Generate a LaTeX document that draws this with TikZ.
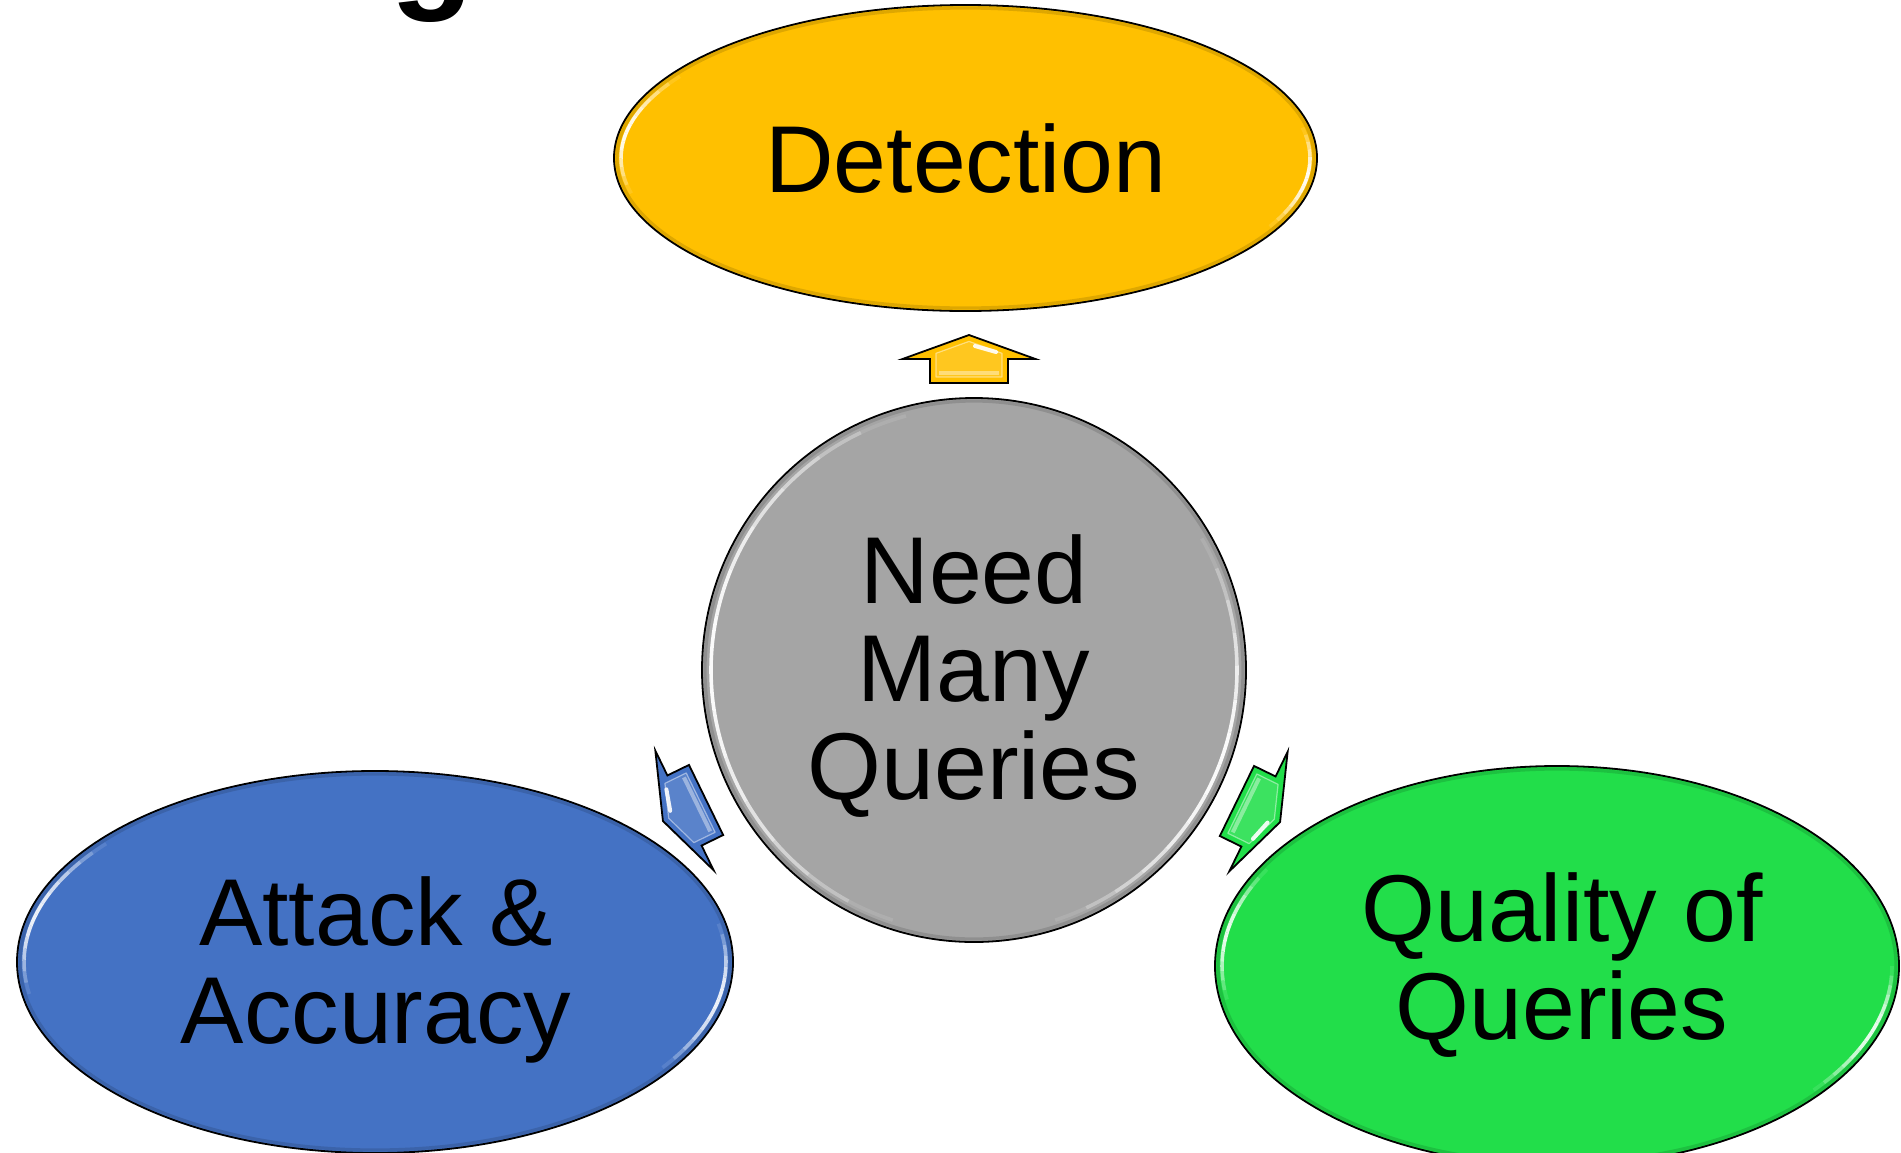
\documentclass[tikz,border=0pt]{standalone}
\usepackage{fontspec}
\setmainfont{Liberation Sans}
\usetikzlibrary{shapes.geometric}

\definecolor{detfill}{HTML}{FFC000}
\definecolor{hubfill}{HTML}{A5A5A5}
\definecolor{attfill}{HTML}{4472C4}
\definecolor{qualfill}{RGB}{34,222,74}

\tikzset{
  bubble/.style={ellipse, draw=black, line width=0.9pt, inner sep=0pt},
  hubdisc/.style={circle, draw=black, line width=0.9pt, inner sep=0pt,
    fill=hubfill, minimum size=272pt},
  bubbletext/.style={font=\fontsize{47.5}{49}\selectfont, align=center,
    anchor=base, inner sep=0pt, text=black},
  rimshade/.style={black, opacity=0.13, line width=1.6pt},
  % bevelled block arrow, tip pointing "up" in its own frame
  pics/spoke/.style={code={
    \fill[#1] (0,-24) -- (66.5,0) -- (39,0) -- (39,24) -- (-39,24)
      -- (-39,0) -- (-66.5,0) -- cycle;
    \fill[white, opacity=0.12] (0,-17.6) -- (33,-5.7) -- (33,18)
      -- (-33,18) -- (-33,-5.7) -- cycle;
    \draw[white, opacity=0.45, line width=0.6pt, line join=round]
      (0,-17.6) -- (33,-5.7) -- (33,18) -- (-33,18) -- (-33,-5.7) -- cycle;
    \draw[white, opacity=0.9, line width=2pt, line cap=round] (6,-13) -- (27,-7);
    \draw[white, opacity=0.4, line width=2pt] (-30,14) -- (30,14);
    \draw[black, line width=0.9pt, line join=miter]
      (0,-24) -- (66.5,0) -- (39,0) -- (39,24) -- (-39,24)
      -- (-39,0) -- (-66.5,0) -- cycle;
  }}
}

% soft white glint along an inner elliptic rim:
% #1,#2 centre, #3,#4 radii, #5,#6 parameter angles, #7 peak opacity
\newcommand\rimglint[7]{%
  \foreach \k in {0,...,13}{%
    \pgfmathsetmacro\aa{#5+(#6-#5)*\k/14}%
    \pgfmathsetmacro\ab{#5+(#6-#5)*(\k+1)/14}%
    \pgfmathsetmacro\op{#7*sin(180*(\k+0.5)/14)}%
    \draw[white, line width=1.8pt, opacity=\op]
      ({#1+#3*cos(\aa)},{#2+#4*sin(\aa)})
      arc[start angle=\aa, end angle=\ab, x radius=#3, y radius=#4];
  }%
}

\begin{document}
\begin{tikzpicture}[x=0.5pt, y=-0.5pt]
\useasboundingbox (0,0) rectangle (1901,1152);
\clip (0,0) rectangle (1901,1152);

% tail of the heading above the diagram
\node[font=\bfseries\fontsize{68.5}{70}\selectfont, anchor=base, inner sep=0pt]
  (headg) at (432,-7) {g};

% top bubble
\node[bubble, fill=detfill, minimum width=351.5pt, minimum height=153pt]
  (det) at (965.5,158) {};
\draw[rimshade] (965.5,158) ellipse [x radius=348.5, y radius=150];
\rimglint{965.5}{158}{344.5}{146}{-146}{-194}{0.95}
\rimglint{965.5}{158}{344.5}{146}{28}{-12}{0.95}
\node[bubbletext] (detlbl) at (966,192) {Detection};

% central disc
\node[hubdisc] (hub) at (974,670) {};
\draw[rimshade] (974,670) circle [radius=269];
\rimglint{974}{670}{263}{263}{-105}{-252}{0.95}
\rimglint{974}{670}{263}{263}{72}{-30}{0.95}
\node[bubbletext] (hublbl) at (974,799) {Need\\Many\\Queries};

% lower left bubble
\node[bubble, fill=attfill, minimum width=358pt, minimum height=191pt]
  (att) at (375,962) {};
\draw[rimshade] (375,962) ellipse [x radius=355, y radius=188];
\rimglint{375}{962}{351}{184}{-140}{-190}{0.9}
\rimglint{375}{962}{351}{184}{35}{-12}{0.9}
\node[bubbletext] (attlbl) at (376,1043) {Attack \&\\Accuracy};

% lower right bubble
\node[bubble, fill=qualfill, minimum width=342pt, minimum height=200pt]
  (qual) at (1557,966) {};
\draw[rimshade] (1557,966) ellipse [x radius=339, y radius=197];
\rimglint{1557}{966}{335}{193}{-150}{-190}{0.9}
\rimglint{1557}{966}{335}{193}{40}{0}{0.9}
\node[bubbletext] (quallbl) at (1562,1039) {Quality of\\Queries};

% block arrows radiating from the disc
\pic at (969,359) {spoke=detfill};
\pic[rotate=116] at (684.5,810.5) {spoke=attfill};
\pic[rotate=-116] at (1258.5,811.5) {spoke=qualfill};
\end{tikzpicture}
\end{document}
